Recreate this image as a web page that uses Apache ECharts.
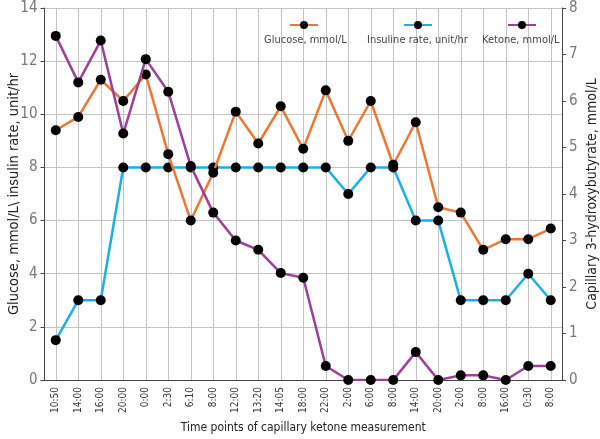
<!DOCTYPE html>
<html>
<head>
<meta charset="utf-8">
<script src="https://cdn.jsdelivr.net/npm/echarts@6/dist/echarts.min.js"></script>
<style>html,body{margin:0;padding:0;background:#fff}#c{width:600px;height:439px}</style>
</head>
<body>
<div id="c"></div>
<script>
const categories = ['10:50','14:00','16:00','20:00','0:00','2:30','6:10','8:00','12:00','13:20','14:05','18:00','22:00','2:00','6:00','8:00','14:00','20:00','2:00','8:00','16:00','0:30','8:00'];
const glucose = [9.4, 9.9, 11.3, 10.5, 11.5, 8.5, 6.0, 7.8, 10.1, 8.9, 10.3, 8.7, 10.9, 9.0, 10.5, 8.1, 9.7, 6.5, 6.3, 4.9, 5.3, 5.3, 5.7];
const insulin = [1.5, 3, 3, 8, 8, 8, 8, 8, 8, 8, 8, 8, 8, 7, 8, 8, 6, 6, 3, 3, 3, 4, 3];
const ketone = [7.4, 6.4, 7.3, 5.3, 6.9, 6.2, 4.6, 3.6, 3.0, 2.8, 2.3, 2.2, 0.3, 0, 0, 0, 0.6, 0, 0.1, 0.1, 0, 0.3, 0.3];
const names = ['Glucose, mmol/L', 'Insuline rate, unit/hr', 'Ketone, mmol/L'];
const leftTicks = {min: 0, max: 14, interval: 2};
const rightTicks = {min: 0, max: 8, interval: 1};

const FONT = "'DejaVu Sans Condensed', 'Liberation Sans Narrow', 'Roboto', sans-serif";
const colors = ['#EA7733', '#1BAFE8', '#9C3F96'];

function iconLegend(name, left) {
  return {
    data: [name], left: left, top: 20, padding: 0, itemWidth: 28, itemHeight: 10,
    itemGap: 0, formatter: function(){ return ''; }, selectedMode: false
  };
}
function textLegend(name, left) {
  return {
    data: [name], left: left, top: 35, padding: 0, itemWidth: 0, itemHeight: 0,
    itemGap: 0, selectedMode: false,
    itemStyle: {opacity: 0}, lineStyle: {opacity: 0},
    textStyle: {fontFamily: FONT, fontSize: 11, color: '#444', padding: [0,0,0,-5]}
  };
}

const chart = echarts.init(document.getElementById('c'), null, {renderer: 'canvas'});
chart.setOption({
  animation: false,
  backgroundColor: '#fff',
  textStyle: {fontFamily: FONT},
  grid: {left: 44.5, right: 38, top: 8, bottom: 59, containLabel: false, outerBoundsMode: 'none'},
  legend: [
    iconLegend(names[0], 289), iconLegend(names[1], 403), iconLegend(names[2], 507),
    textLegend(names[0], 263), textLegend(names[1], 366), textLegend(names[2], 481)
  ],
  xAxis: {
    type: 'category', data: categories, boundaryGap: true,
    axisLine: {lineStyle: {color: '#444', width: 1}},
    axisTick: {show: false, alignWithLabel: true},
    splitLine: {show: true, alignWithLabel: true, lineStyle: {color: '#c4c4c4', width: 1}},
    axisLabel: {rotate: 90, fontFamily: FONT, fontSize: 10, color: '#333', margin: 7, interval: 0},
    name: 'Time points of capillary ketone measurement', nameLocation: 'middle', nameGap: 42,
    nameMoveOverlap: false,
    nameTextStyle: {fontFamily: FONT, fontSize: 12, color: '#222'}
  },
  yAxis: [
    {
      type: 'value', min: leftTicks.min, max: leftTicks.max, interval: leftTicks.interval,
      axisLine: {show: true, lineStyle: {color: '#444'}},
      axisTick: {show: true, length: 4, lineStyle: {color: '#444'}},
      splitLine: {show: true, lineStyle: {color: '#c4c4c4'}},
      axisLabel: {fontFamily: FONT, fontSize: 15, color: '#777', margin: 7},
      name: 'Glucose, mmol/L\\ insulin rate, unit/hr', nameLocation: 'middle', nameGap: 23, nameRotate: 90,
      nameMoveOverlap: false,
      nameTextStyle: {fontFamily: FONT, fontSize: 14.5, color: '#222'}
    },
    {
      type: 'value', position: 'right', min: rightTicks.min, max: rightTicks.max, interval: rightTicks.interval,
      axisLine: {show: true, lineStyle: {color: '#444'}},
      axisTick: {show: true, length: 4, lineStyle: {color: '#444'}},
      splitLine: {show: false},
      axisLabel: {fontFamily: FONT, fontSize: 15, color: '#777', margin: 7},
      name: 'Capillary 3-hydroxybutyrate, mmol/L', nameLocation: 'middle', nameGap: 23, nameRotate: 90,
      nameMoveOverlap: false,
      nameTextStyle: {fontFamily: FONT, fontSize: 14, color: '#222'}
    }
  ],
  series: [
    {name: names[0], type: 'line', data: glucose, yAxisIndex: 0, symbol: 'circle', symbolSize: 10,
     lineStyle: {color: colors[0], width: 2.5}, itemStyle: {color: '#000'}, z: 3},
    {name: names[1], type: 'line', data: insulin, yAxisIndex: 0, symbol: 'circle', symbolSize: 10,
     lineStyle: {color: colors[1], width: 2.5}, itemStyle: {color: '#000'}, z: 2},
    {name: names[2], type: 'line', data: ketone, yAxisIndex: 1, symbol: 'circle', symbolSize: 10,
     lineStyle: {color: colors[2], width: 2.5}, itemStyle: {color: '#000'}, z: 4}
  ]
});
</script>
</body>
</html>
